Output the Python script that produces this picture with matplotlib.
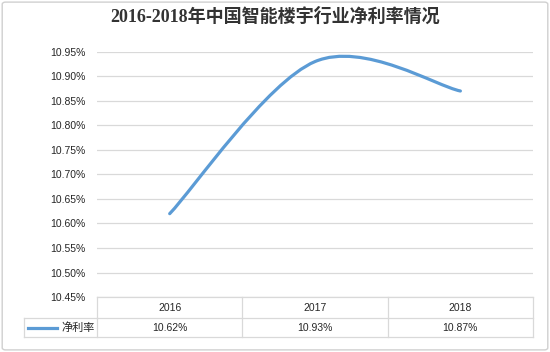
import matplotlib.pyplot as plt
from matplotlib.path import Path
from matplotlib.patches import PathPatch, FancyBboxPatch
from matplotlib.lines import Line2D
import matplotlib.transforms as mtransforms

plt.rcParams['font.family'] = ['Liberation Sans', 'Noto Sans CJK SC', 'DejaVu Sans']

# data
years = ['2016', '2017', '2018']
net_margin = [10.62, 10.93, 10.87]
series_name = '净利率'
title = '2016-2018年中国智能楼宇行业净利率情况'
y_ticks = [10.45, 10.50, 10.55, 10.60, 10.65, 10.70, 10.75, 10.80, 10.85, 10.90, 10.95]

line_color = '#5B9BD5'
grid_color = '#D9D9D9'
text_color = '#262626'

fig = plt.figure(figsize=(5.5, 3.52), dpi=100)
fig.patch.set_facecolor('white')

# outer chart border
fig.patches.append(FancyBboxPatch((0.004, 0.006), 0.992, 0.988, boxstyle='round,pad=0,rounding_size=0.006',
                                  transform=fig.transFigure, facecolor='none', edgecolor='#D0D0D0', lw=1.0))

ax = fig.add_axes([0.1764, 0.156, 0.7928, 0.697])
ax.set_xlim(-0.5, len(years) - 0.5)
ax.set_ylim(y_ticks[0], y_ticks[-1])
for s in ax.spines.values():
    s.set_visible(False)
ax.set_xticks([])
ax.set_yticks(y_ticks)
ax.set_yticklabels(['%.2f%%' % v for v in y_ticks], fontsize=7.5, color=text_color)
ax.tick_params(axis='y', length=0, pad=8)
ax.grid(axis='y', color=grid_color, lw=0.9)
ax.set_axisbelow(True)

# smoothed line (Excel-like bezier through the points)
xs = list(range(len(years)))
pts = list(zip(xs, net_margin))
k = 1 / 6
verts = [pts[0]]
codes = [Path.MOVETO]
for i in range(len(pts) - 1):
    p0 = pts[i - 1] if i > 0 else pts[i]
    p1 = pts[i]
    p2 = pts[i + 1]
    p3 = pts[i + 2] if i + 2 < len(pts) else pts[i + 1]
    c1 = (p1[0] + (p2[0] - p0[0]) * k, p1[1] + (p2[1] - p0[1]) * k)
    c2 = (p2[0] - (p3[0] - p1[0]) * k, p2[1] - (p3[1] - p1[1]) * k)
    verts += [c1, c2, p2]
    codes += [Path.CURVE4] * 3
ax.add_patch(PathPatch(Path(verts, codes), facecolor='none', edgecolor=line_color, lw=2.3,
                       capstyle='round'))

# data table under the plot
bt = mtransforms.blended_transform_factory(ax.transData, ax.transAxes)
row1 = -0.0856
row2 = -0.163
leg_left = -0.167
tc = dict(color=grid_color, lw=0.9, clip_on=False)
# horizontal lines
ax.add_line(Line2D([-0.5, len(years) - 0.5], [0, 0], transform=bt, **tc))
ax.add_line(Line2D([0, 1], [row1, row1], transform=ax.transAxes, **tc))
ax.add_line(Line2D([leg_left, 0], [row1, row1], transform=ax.transAxes, **tc))
ax.add_line(Line2D([leg_left, 1], [row2, row2], transform=ax.transAxes, **tc))
# vertical lines
for b in [x - 0.5 for x in range(len(years) + 1)]:
    ax.add_line(Line2D([b, b], [0, row2], transform=bt, **tc))
ax.add_line(Line2D([leg_left, leg_left], [row1, row2], transform=ax.transAxes, **tc))

for x, yr, v in zip(xs, years, net_margin):
    ax.text(x, row1 / 2, yr, transform=bt, ha='center', va='center', fontsize=7.5, color=text_color)
    ax.text(x, (row1 + row2) / 2, '%.2f%%' % v, transform=bt, ha='center', va='center',
            fontsize=7.5, color=text_color)

ymid = (row1 + row2) / 2
ax.add_line(Line2D([leg_left + 0.008, leg_left + 0.075], [ymid, ymid], transform=ax.transAxes,
                   color=line_color, lw=2.3, clip_on=False))
ax.text(-0.006, ymid, series_name, transform=ax.transAxes, ha='right', va='center',
        fontsize=8, color=text_color)

fig.text(0.5, 0.953, title, ha='center', va='center', fontsize=13, fontweight='bold',
         family=['Liberation Serif', 'Noto Sans CJK SC'], color='#333333')

fig.savefig('out.png', dpi=100)
